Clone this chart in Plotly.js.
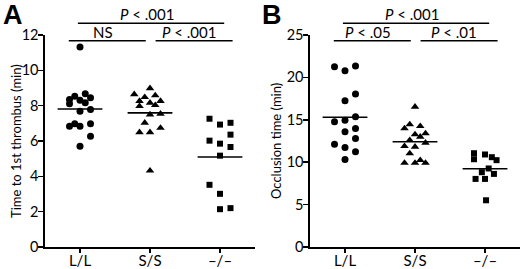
<!DOCTYPE html>
<html><head><meta charset="utf-8">
<script src="https://cdn.plot.ly/plotly-3.0.1.min.js"></script>
<style>html,body{margin:0;padding:0;background:#fff}#chart{width:520px;height:269px}</style>
</head><body><div id="chart"></div>
<script>
// ---------- data ----------
const categories = ['L/L', 'S/S', '\u2013/\u2013'];

// Panel A: time to 1st thrombus (min)
const thrombusLL = [8.35, 8.54, 8.68, 8.45, 8.11, 8.31, 8.16, 7.69, 7.78, 6.84, 6.97, 6.84, 6.97, 6.27, 5.70, 11.32];
const thrombusSS = [8.64, 8.98, 8.48, 8.58, 8.26, 7.97, 8.16, 8.03, 8.26, 7.50, 7.54, 7.03, 6.74, 6.49, 6.49, 4.32];
const thrombusKO = [7.26, 6.93, 7.03, 6.36, 6.02, 5.85, 5.66, 5.17, 3.52, 3.01, 2.14, 2.20];

// Panel B: occlusion time (min)
const occlusionLL = [21.25, 20.78, 21.33, 17.24, 18.03, 14.76, 14.96, 15.35, 13.58, 13.98, 12.13, 11.74, 12.80, 11.22, 10.32];
const occlusionSS = [16.53, 13.98, 14.45, 14.25, 13.27, 12.99, 13.39, 12.60, 11.89, 11.81, 12.28, 11.03, 9.92, 9.92, 10.24, 9.92];
const occlusionKO = [11.06, 10.35, 10.91, 10.59, 10.24, 8.82, 9.26, 8.62, 8.03, 8.03, 5.51];

// scatter-dot jitter columns (dot-plot spreading)
const thrombusLLcol = [-2, -1, 1, 2, -2, 0, 1, 0, 2, -2, -1, 0, 2, 2, 0, 0];
const thrombusSScol = [-3, 0, -1, 1, -2, -2, 0, 1, 2, 0, 2, -1, 2, -2, 0, 0];
const thrombusKOcol = [-2, 0, 2, 2, -2, 0, 2, 0, -2, 0, 0, 2];
const occlusionLLcol = [-2, 0, 2, 0, 2, -2, 0, 2, 0, 2, -2, 0, 2, 2, 0];
const occlusionSScol = [0, -2, -1, 1, 0, 1, 2, -1, -2, 0, 2, -1, -2, 0, 1, 2];
const occlusionKOcol = [-2.1, -2.1, 0, 1.3, 2.2, -0.6, 0.7, 1.7, -1.8, 0, 0.2];

// axis titles
const titleA = 'Time to 1st thrombus (min)';
const titleB = 'Occlusion time (min)';

// significance labels: [leftGroup, rightGroup, label]
const sigA = [[0, 2, '<i>P</i> &lt; .001'], [0, 1, 'NS'], [1, 2, '<i>P</i> &lt; .001']];
const sigB = [[0, 2, '<i>P</i> &lt; .001'], [0, 1, '<i>P</i> &lt; .05'], [1, 2, '<i>P</i> &lt; .01']];

// ---------- drawing ----------
const STEP = 0.075;
const HALF = 0.32;
const mean = a => a.reduce((s, v) => s + v, 0) / a.length;

function dots(vals, cols, cat, symbol, size, xa, ya) {
  return {
    type: 'scatter', mode: 'markers', xaxis: xa, yaxis: ya,
    x: vals.map((v, i) => cat + cols[i] * STEP), y: vals,
    marker: {symbol: symbol, size: size, color: '#000', line: {width: 0}},
    hoverinfo: 'y', showlegend: false
  };
}
function meanLine(vals, cat, xa, ya) {
  const m = mean(vals);
  return {
    type: 'scatter', mode: 'lines', xaxis: xa, yaxis: ya,
    x: [cat - HALF, cat + HALF], y: [m, m],
    line: {color: '#000', width: 1.6}, hoverinfo: 'skip', showlegend: false
  };
}

const groupsA = [[thrombusLL, thrombusLLcol, 'circle', 7], [thrombusSS, thrombusSScol, 'triangle-up', 7.5], [thrombusKO, thrombusKOcol, 'square', 6]];
const groupsB = [[occlusionLL, occlusionLLcol, 'circle', 7], [occlusionSS, occlusionSScol, 'triangle-up', 7.5], [occlusionKO, occlusionKOcol, 'square', 6]];

const traces = [];
groupsA.forEach((g, i) => { traces.push(dots(g[0], g[1], i, g[2], g[3], 'x', 'y')); traces.push(meanLine(g[0], i, 'x', 'y')); });
groupsB.forEach((g, i) => { traces.push(dots(g[0], g[1], i, g[2], g[3], 'x2', 'y2')); traces.push(meanLine(g[0], i, 'x2', 'y2')); });

const FONT = 'Lato, "Open Sans", sans-serif';
const ML = 45, MR = 0, MT = 35, MB = 22;
const PW = 520 - ML - MR, PH = 269 - MT - MB;
const px2x = p => (p - ML) / PW;
const px2y = p => (269 - MB - p) / PH;

function xAxis(domain, anchor) {
  return {
    domain: domain, anchor: anchor, range: [-0.5, 2.5],
    tickmode: 'array', tickvals: [0, 1, 2], ticktext: categories,
    showline: true, linecolor: '#000', linewidth: 1.6,
    ticks: 'outside', ticklen: 4, tickwidth: 1.6, tickcolor: '#000',
    ticklabelstandoff: -5,
    showgrid: false, zeroline: false, tickfont: {size: 15, color: '#000', family: FONT},
    fixedrange: true
  };
}
function yAxis(anchor, max, dtick) {
  return {
    anchor: anchor, range: [0, max], tick0: 0, dtick: dtick,
    showline: true, linecolor: '#000', linewidth: 1.6,
    ticks: 'outside', ticklen: 5, tickwidth: 1.6, tickcolor: '#000',
    ticklabelstandoff: -3,
    showgrid: false, zeroline: false, tickfont: {size: 14.5, color: '#000', family: FONT},
    fixedrange: true
  };
}

// significance bar geometry (layout positions)
const TOP_Y = 1 + 11.7 / PH, LOW_Y = 1 - 5.8 / PH;
const barGeom = [
  {x0: -0.03, x1: 2.06, tx: 0.95, y: TOP_Y},
  {x0: -0.16, x1: 0.94, tx: 0.33, y: LOW_Y},
  {x0: 1.08, x1: 2.18, tx: 1.56, y: LOW_Y}
];

const shapes = [], annotations = [];
[[sigA, 'x'], [sigB, 'x2']].forEach(([sig, xr]) => {
  sig.forEach((s, i) => {
    const g = barGeom[i];
    shapes.push({type: 'line', xref: xr, yref: 'paper', x0: g.x0, x1: g.x1, y0: g.y, y1: g.y,
      line: {color: '#000', width: 1.6}});
    annotations.push({xref: xr, yref: 'paper', x: g.tx, y: g.y, yanchor: 'bottom', xanchor: 'center',
      text: s[2], showarrow: false, yshift: -2, font: {size: 15, color: '#000', family: FONT}});
  });
});
// y-axis titles
annotations.push({xref: 'paper', yref: 'paper', x: px2x(16), y: 0.5, xanchor: 'center', yanchor: 'middle',
  textangle: -90, text: titleA, showarrow: false, font: {size: 13, color: '#000', family: FONT}});
annotations.push({xref: 'paper', yref: 'paper', x: px2x(276), y: 0.5, xanchor: 'center', yanchor: 'middle',
  textangle: -90, text: titleB, showarrow: false, font: {size: 13, color: '#000', family: FONT}});
// panel letters
annotations.push({xref: 'paper', yref: 'paper', x: px2x(1), y: px2y(-2), xanchor: 'left', yanchor: 'top',
  text: '<b>A</b>', showarrow: false, font: {size: 27, color: '#000', family: 'Liberation Sans, Arial, sans-serif'}});
annotations.push({xref: 'paper', yref: 'paper', x: px2x(260), y: px2y(-2), xanchor: 'left', yanchor: 'top',
  text: '<b>B</b>', showarrow: false, font: {size: 27, color: '#000', family: 'Liberation Sans, Arial, sans-serif'}});

const layout = {
  width: 520, height: 269,
  margin: {l: ML, r: MR, t: MT, b: MB, pad: 0},
  paper_bgcolor: '#fff', plot_bgcolor: '#fff',
  font: {family: FONT, color: '#000'},
  showlegend: false,
  xaxis: xAxis([0, 210 / PW], 'y'),
  yaxis: yAxis('x', 12, 2),
  xaxis2: xAxis([265 / PW, 1], 'y2'),
  yaxis2: yAxis('x2', 25, 5),
  shapes: shapes,
  annotations: annotations
};

Plotly.newPlot('chart', traces, layout, {displayModeBar: false, staticPlot: true});
</script>
</body></html>
